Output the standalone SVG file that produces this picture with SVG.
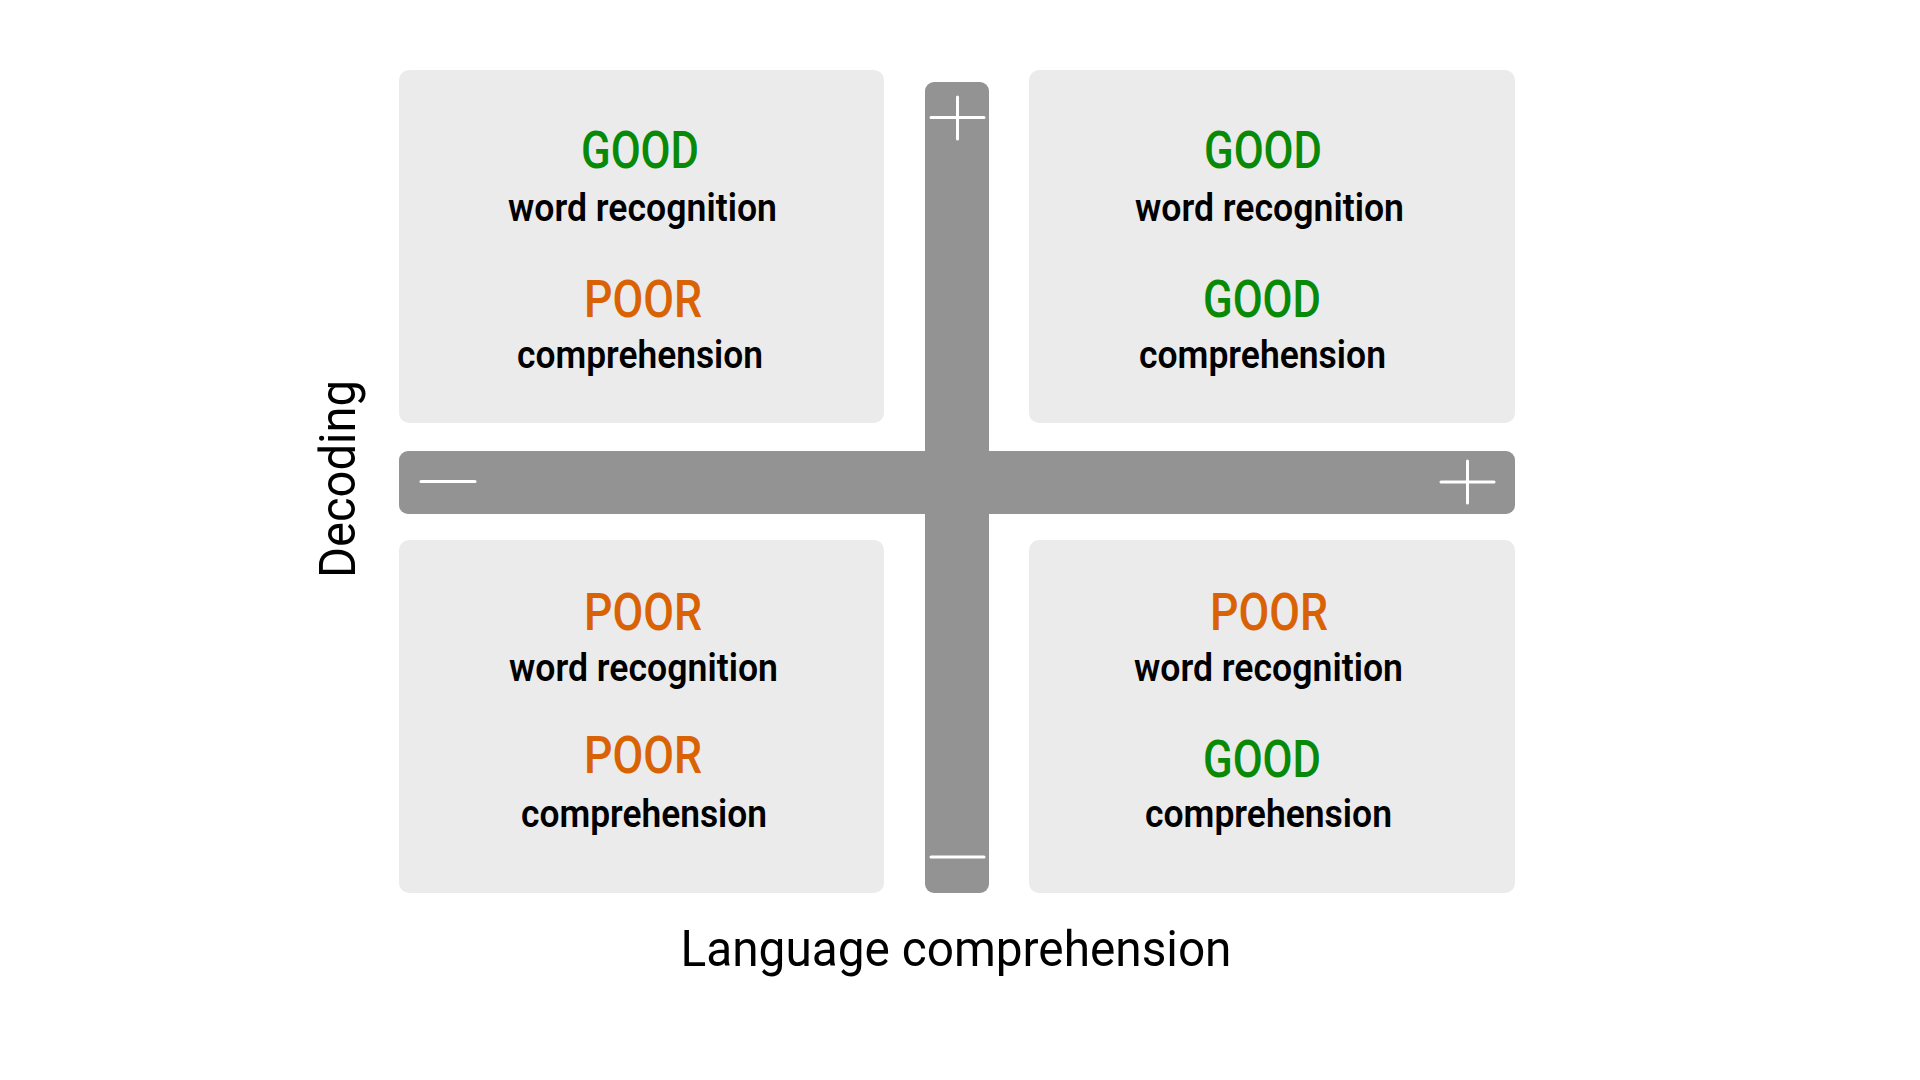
<svg xmlns="http://www.w3.org/2000/svg" width="1920" height="1080" viewBox="0 0 1920 1080">
<style>
.box{fill:#ECEBEC}
.bar{fill:#939393}
.sign{stroke:#FFFFFF;stroke-width:3;stroke-linecap:round;fill:none}
.rate{font-family:Roboto,"Liberation Sans",sans-serif;font-weight:500;font-size:51px;text-anchor:middle}
.good{fill:#088A08}
.poor{fill:#D96304}
.lbl{font-family:Roboto,"Liberation Sans",sans-serif;font-weight:600;font-size:39px;text-anchor:middle;fill:#000000}
.axis{font-family:Roboto,"Liberation Sans",sans-serif;font-weight:400;font-size:50px;text-anchor:middle;fill:#000000}
</style>
<rect width="1920" height="1080" fill="#FFFFFF"/>
<g id="axes">
<rect class="bar" x="925" y="82" width="64" height="811" rx="9"/>
<rect class="bar" x="399" y="451" width="1116" height="63" rx="9"/>
<path class="sign" d="M931 117.5H984M957.5 97V139"/>
<path class="sign" d="M1441 482H1494M1467.5 461V503"/>
<path class="sign" d="M421 481.5H475"/>
<path class="sign" d="M931 857H984"/>
</g>
<g id="q-top-left">
<rect class="box" x="399" y="70" width="485" height="353" rx="10"/>
<text class="rate good" x="640" y="168" textLength="118" lengthAdjust="spacingAndGlyphs">GOOD</text>
<text class="lbl" x="642.5" y="221" textLength="269" lengthAdjust="spacingAndGlyphs">word recognition</text>
<text class="rate poor" x="643" y="317" textLength="118" lengthAdjust="spacingAndGlyphs">POOR</text>
<text class="lbl" x="640" y="368" textLength="246" lengthAdjust="spacingAndGlyphs">comprehension</text>
</g>
<g id="q-top-right">
<rect class="box" x="1029" y="70" width="486" height="353" rx="10"/>
<text class="rate good" x="1263" y="168" textLength="118" lengthAdjust="spacingAndGlyphs">GOOD</text>
<text class="lbl" x="1269.5" y="221" textLength="269" lengthAdjust="spacingAndGlyphs">word recognition</text>
<text class="rate good" x="1262" y="317" textLength="118" lengthAdjust="spacingAndGlyphs">GOOD</text>
<text class="lbl" x="1262.5" y="368" textLength="247" lengthAdjust="spacingAndGlyphs">comprehension</text>
</g>
<g id="q-bottom-left">
<rect class="box" x="399" y="540" width="485" height="353" rx="10"/>
<text class="rate poor" x="643" y="630" textLength="118" lengthAdjust="spacingAndGlyphs">POOR</text>
<text class="lbl" x="643.5" y="681" textLength="269" lengthAdjust="spacingAndGlyphs">word recognition</text>
<text class="rate poor" x="643" y="773" textLength="118" lengthAdjust="spacingAndGlyphs">POOR</text>
<text class="lbl" x="644" y="827" textLength="246" lengthAdjust="spacingAndGlyphs">comprehension</text>
</g>
<g id="q-bottom-right">
<rect class="box" x="1029" y="540" width="486" height="353" rx="10"/>
<text class="rate poor" x="1269" y="630" textLength="118" lengthAdjust="spacingAndGlyphs">POOR</text>
<text class="lbl" x="1268.5" y="681" textLength="269" lengthAdjust="spacingAndGlyphs">word recognition</text>
<text class="rate good" x="1262" y="777" textLength="118" lengthAdjust="spacingAndGlyphs">GOOD</text>
<text class="lbl" x="1268.5" y="827" textLength="247" lengthAdjust="spacingAndGlyphs">comprehension</text>
</g>
<g id="axis-labels">
<text class="axis" x="956" y="966" textLength="551" lengthAdjust="spacingAndGlyphs">Language comprehension</text>
<text class="axis" transform="translate(355 479) rotate(-90)" x="0" y="0" font-size="53" textLength="198" lengthAdjust="spacingAndGlyphs">Decoding</text>
</g>
</svg>
